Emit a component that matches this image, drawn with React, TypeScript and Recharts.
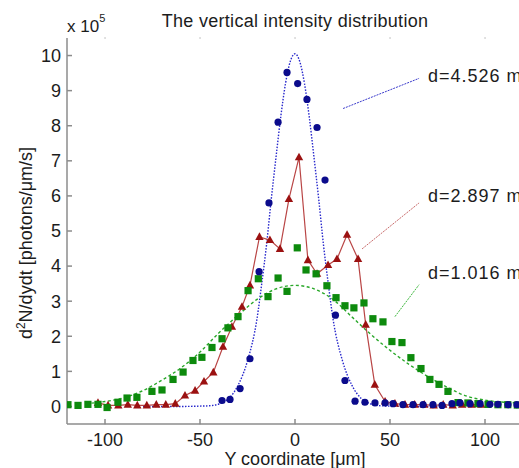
import { ComposedChart, Line, Scatter, XAxis, YAxis, CartesianGrid, ReferenceLine, ReferenceDot } from 'recharts'

const xTicks = [-100, -50, 0, 50, 100]
const yTicks = [0, 1, 2, 3, 4, 5, 6, 7, 8, 9, 10]

// d = 4.526 m, measured (units of 1e5)
const blueData = [
  { x: -38.4, y: 0.17 }, { x: -34.2, y: 0.2 }, { x: -28.9, y: 0.51 }, { x: -23.7, y: 1.36 },
  { x: -18.9, y: 3.84 }, { x: -13.7, y: 5.8 }, { x: -8.9, y: 8.1 }, { x: -4.2, y: 9.52 },
  { x: 1.4, y: 9.2 }, { x: 6.3, y: 8.75 }, { x: 11.6, y: 7.95 }, { x: 15.8, y: 6.45 },
  { x: 21.3, y: 2.6 }, { x: 26.3, y: 0.74 }, { x: 31.6, y: 0.15 }, { x: 36.8, y: 0.12 },
  { x: 42.1, y: 0.1 }, { x: 47.4, y: 0.1 }, { x: 51.6, y: 0.08 }, { x: 56.8, y: 0.05 },
  { x: 62.1, y: 0.05 }, { x: 67.4, y: 0.05 }, { x: 72.6, y: 0.05 }, { x: 77.4, y: 0.03 },
  { x: 82.6, y: 0.08 }, { x: 86.8, y: 0.1 }, { x: 92.1, y: 0.08 }, { x: 97.4, y: 0.08 },
  { x: 102.6, y: 0.06 }, { x: 106.8, y: 0.06 }, { x: 112.1, y: 0.05 }, { x: 116.8, y: 0.05 },
]

// d = 4.526 m, fitted curve
const blueFit = [
  { x: -80, y: 0 }, { x: -60, y: 0 }, { x: -50, y: 0.01 }, { x: -45, y: 0.02 }, { x: -40, y: 0.07 },
  { x: -35, y: 0.22 }, { x: -30, y: 0.6 }, { x: -25, y: 1.3 }, { x: -20, y: 2.5 },
  { x: -17.5, y: 3.5 }, { x: -15, y: 4.6 }, { x: -12.5, y: 5.9 }, { x: -10, y: 7.1 },
  { x: -7.5, y: 8.25 }, { x: -5, y: 9.2 }, { x: -2.5, y: 9.83 }, { x: 0, y: 10.05 },
  { x: 2.5, y: 9.83 }, { x: 5, y: 9.2 }, { x: 7.5, y: 8.25 }, { x: 10, y: 7.1 },
  { x: 12.5, y: 5.9 }, { x: 15, y: 4.6 }, { x: 17.5, y: 3.5 }, { x: 20, y: 2.5 },
  { x: 25, y: 1.3 }, { x: 30, y: 0.6 }, { x: 35, y: 0.22 }, { x: 40, y: 0.07 },
  { x: 45, y: 0.02 }, { x: 50, y: 0.01 }, { x: 60, y: 0 }, { x: 80, y: 0 },
]

// d = 2.897 m
const redData = [
  { x: -103.7, y: 0.1 }, { x: -98.4, y: 0.03 }, { x: -93, y: 0.03 }, { x: -88, y: 0.05 },
  { x: -83, y: 0.03 }, { x: -78, y: 0.03 }, { x: -73, y: 0.05 }, { x: -68, y: 0.05 },
  { x: -63, y: 0.08 }, { x: -57.9, y: 0.31 }, { x: -52.6, y: 0.45 }, { x: -47.9, y: 0.71 },
  { x: -43, y: 0.97 }, { x: -37.9, y: 1.7 }, { x: -33.2, y: 2.27 }, { x: -27.9, y: 2.84 },
  { x: -23.7, y: 3.45 }, { x: -18.7, y: 4.83 }, { x: -13.2, y: 4.74 }, { x: -7.9, y: 4.49 },
  { x: -3.2, y: 5.91 }, { x: 2.1, y: 7.1 }, { x: 6.8, y: 4.17 }, { x: 11.6, y: 3.78 },
  { x: 17.4, y: 4.03 }, { x: 22.1, y: 4.2 }, { x: 27.4, y: 4.89 }, { x: 33.2, y: 4.2 },
  { x: 37.2, y: 2.33 }, { x: 42, y: 0.62 }, { x: 47.4, y: 0.14 }, { x: 52.6, y: 0.08 },
  { x: 57.9, y: 0.05 }, { x: 63, y: 0.05 }, { x: 68, y: 0.05 }, { x: 73, y: 0.03 },
  { x: 78, y: 0.05 }, { x: 83, y: 0.03 }, { x: 88, y: 0.05 }, { x: 93, y: 0.05 }, { x: 98, y: 0.05 },
]

// d = 1.016 m, measured
const greenData = [
  { x: -119.5, y: 0.05 }, { x: -114.2, y: 0.03 }, { x: -109, y: 0.06 }, { x: -103.7, y: 0.06 },
  { x: -98.9, y: -0.03 }, { x: -93.2, y: 0.12 }, { x: -88.4, y: 0.24 }, { x: -83.2, y: 0.26 },
  { x: -75.3, y: 0.43 }, { x: -70, y: 0.47 }, { x: -64.2, y: 0.77 }, { x: -58.9, y: 0.98 },
  { x: -53.7, y: 1.31 }, { x: -49, y: 1.4 }, { x: -43.7, y: 1.68 }, { x: -38.4, y: 1.93 },
  { x: -35.3, y: 2.24 }, { x: -30, y: 2.56 }, { x: -24.7, y: 3.3 }, { x: -19.3, y: 3.64 },
  { x: -14.2, y: 3.13 }, { x: -8.9, y: 3.66 }, { x: -4.2, y: 3.28 }, { x: 1.2, y: 4.52 },
  { x: 5.8, y: 3.89 }, { x: 11.1, y: 3.78 }, { x: 16.8, y: 3.44 }, { x: 21.6, y: 3.1 },
  { x: 26.3, y: 2.87 }, { x: 31, y: 2.81 }, { x: 36.3, y: 2.95 }, { x: 41, y: 2.5 },
  { x: 46.3, y: 2.41 }, { x: 51, y: 1.85 }, { x: 56.3, y: 1.82 }, { x: 61, y: 1.39 },
  { x: 66.3, y: 1.08 }, { x: 71, y: 0.77 }, { x: 75.8, y: 0.63 }, { x: 80.5, y: 0.43 },
  { x: 85.8, y: 0.11 }, { x: 91, y: 0.1 }, { x: 96.3, y: 0.08 }, { x: 101.6, y: 0.06 },
  { x: 106.8, y: 0.05 }, { x: 112, y: 0.05 }, { x: 117, y: 0.04 },
]

// d = 1.016 m, fitted curve
const greenFit = [
  { x: -110, y: 0.08 }, { x: -100, y: 0.14 }, { x: -90, y: 0.25 }, { x: -80, y: 0.45 },
  { x: -70, y: 0.75 }, { x: -60, y: 1.1 }, { x: -50, y: 1.55 }, { x: -40, y: 2.1 },
  { x: -30, y: 2.6 }, { x: -20, y: 3.05 }, { x: -10, y: 3.35 }, { x: 0, y: 3.45 },
  { x: 10, y: 3.35 }, { x: 20, y: 3.05 }, { x: 30, y: 2.55 }, { x: 40, y: 2.05 },
  { x: 50, y: 1.6 }, { x: 60, y: 1.2 }, { x: 70, y: 0.85 }, { x: 80, y: 0.55 },
  { x: 90, y: 0.3 }, { x: 100, y: 0.18 }, { x: 110, y: 0.12 }, { x: 120, y: 0.1 },
]

const seriesNames = ['d=4.526 m', 'd=2.897 m', 'd=1.016 m']

const FONT = '"Liberation Sans", Arial, Helvetica, sans-serif'
const AXIS = '#8c8c8c'
const TXT = '#1c1c1c'

const Circle = (p: any) => <circle cx={p.cx} cy={p.cy} r={3.6} fill="#0b0b8c" />
const Square = (p: any) => <rect x={p.cx - 3.6} y={p.cy - 3.6} width={7.2} height={7.2} fill="#0d8a0d" />
const Triangle = (p: any) => (
  <polygon
    key={`tri-${p.index}`}
    points={`${p.cx},${p.cy - 4.6} ${p.cx - 4.2},${p.cy + 3} ${p.cx + 4.2},${p.cy + 3}`}
    fill="#9b1111"
  />
)

const noTick = () => null

function tag(text: string) {
  return (p: any) => (
    <text x={p.viewBox.x} y={p.viewBox.y} dy="0.36em" fontSize={18} letterSpacing={1} fill={TXT} fontFamily={FONT}>
      {text}
    </text>
  )
}

export default function App() {
  return (
    <div style={{ position: 'absolute', left: 0, top: 0, width: 519, height: 468, overflow: 'hidden', background: '#fff' }}>
      <ComposedChart
        width={540}
        height={468}
        margin={{ top: 38, right: 17, bottom: 0, left: 0 }}
        style={{ fontFamily: FONT }}
      >
        <CartesianGrid
          vertical={false}
          stroke="#b0b0b0"
          strokeDasharray="1.5 93.5"
          strokeDashoffset={57.7}
        />
        <XAxis
          xAxisId="b"
          dataKey="x"
          type="number"
          domain={[-120, 120]}
          ticks={xTicks}
          allowDataOverflow
          height={44}
          tickSize={-5}
          tickMargin={14}
          stroke={AXIS}
          strokeWidth={1.5}
          tick={{ fill: TXT, fontSize: 18 }}
          label={(p: any) => (
            <text x={295} y={465} textAnchor="middle" fontSize={18} fill={TXT} fontFamily={FONT}>
              Y coordinate [μm]
            </text>
          )}
        />
        <XAxis
          xAxisId="t"
          orientation="top"
          dataKey="x"
          type="number"
          domain={[-120, 120]}
          ticks={xTicks}
          allowDataOverflow
          height={0}
          tickSize={-5}
          stroke={AXIS}
          strokeWidth={1.5}
          tick={noTick}
        />
        <YAxis
          yAxisId="l"
          type="number"
          domain={[-0.5, 10.5]}
          ticks={yTicks}
          allowDataOverflow
          width={67}
          tickSize={-5}
          tickMargin={11}
          stroke={AXIS}
          strokeWidth={1.5}
          tick={{ fill: TXT, fontSize: 18 }}
          label={(p: any) => (
            <text
              x={32}
              y={243}
              transform="rotate(-90 32 243)"
              textAnchor="middle"
              fontSize={18}
              fill={TXT}
              fontFamily={FONT}
            >
              d<tspan fontSize={12} dy={-7}>2</tspan>
              <tspan dy={7}>N/dydt [photons/μm/s]</tspan>
            </text>
          )}
        />
        <YAxis
          yAxisId="r"
          orientation="right"
          type="number"
          domain={[-0.5, 10.5]}
          ticks={yTicks}
          allowDataOverflow
          width={0}
          tickSize={-5}
          stroke={AXIS}
          strokeWidth={1.5}
          tick={noTick}
        />

        <Line
          xAxisId="b"
          yAxisId="l"
          data={blueFit}
          dataKey="y"
          type="monotone"
          stroke="#2828cc"
          strokeWidth={1.4}
          strokeDasharray="1.5 1.5"
          dot={false}
          isAnimationActive={false}
        />
        <Line
          xAxisId="b"
          yAxisId="l"
          data={greenFit}
          dataKey="y"
          type="monotone"
          stroke="#2aa82a"
          strokeWidth={1.4}
          strokeDasharray="3 2.5"
          dot={false}
          isAnimationActive={false}
        />
        <Line
          xAxisId="b"
          yAxisId="l"
          data={redData}
          dataKey="y"
          name={seriesNames[1]}
          type="linear"
          stroke="#b94545"
          strokeWidth={1.2}
          dot={Triangle}
          isAnimationActive={false}
        />
        <Scatter
          xAxisId="b"
          yAxisId="l"
          data={greenData}
          dataKey="y"
          name={seriesNames[2]}
          shape={Square}
          isAnimationActive={false}
        />
        <Scatter
          xAxisId="b"
          yAxisId="l"
          data={blueData}
          dataKey="y"
          name={seriesNames[0]}
          shape={Circle}
          isAnimationActive={false}
        />

        <ReferenceLine xAxisId="b" yAxisId="l" segment={[{ x: 25.3, y: 8.49 }, { x: 65.3, y: 9.35 }]} stroke="#3a3acc" strokeWidth={1} strokeDasharray="2 1" />
        <ReferenceLine xAxisId="b" yAxisId="l" segment={[{ x: 35.3, y: 4.49 }, { x: 65.3, y: 5.8 }]} stroke="#c86a6a" strokeWidth={1} strokeDasharray="2 1" />
        <ReferenceLine xAxisId="b" yAxisId="l" segment={[{ x: 52.6, y: 2.56 }, { x: 65.3, y: 3.47 }]} stroke="#3cb83c" strokeWidth={1} strokeDasharray="2 1" />

        <ReferenceDot xAxisId="b" yAxisId="l" x={70} y={9.43} r={0} stroke="none" label={tag(seriesNames[0])} />
        <ReferenceDot xAxisId="b" yAxisId="l" x={70} y={6.02} r={0} stroke="none" label={tag(seriesNames[1])} />
        <ReferenceDot xAxisId="b" yAxisId="l" x={70} y={3.81} r={0} stroke="none" label={tag(seriesNames[2])} />
      </ComposedChart>

      <svg width={519} height={468} style={{ position: 'absolute', left: 0, top: 0, pointerEvents: 'none' }}>
        <text x={295} y={27} textAnchor="middle" fontSize={18} letterSpacing={0.3} fill={TXT} fontFamily={FONT}>
          The vertical intensity distribution
        </text>
        <text x={67} y={32} fontSize={17} fill={TXT} fontFamily={FONT}>
          x 10<tspan fontSize={11} dy={-10}>5</tspan>
        </text>
      </svg>
    </div>
  )
}
